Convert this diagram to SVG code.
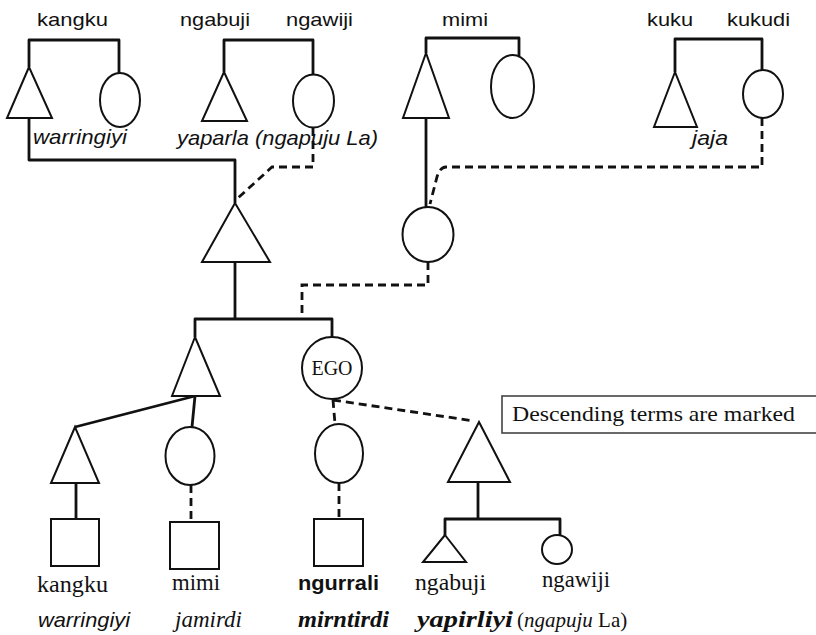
<svg xmlns="http://www.w3.org/2000/svg" width="816" height="635" viewBox="0 0 816 635">
<style>
.sh{fill:#fff;stroke:#111;stroke-width:2}
.ln{fill:none;stroke:#111;stroke-width:2.8;stroke-linejoin:round}
.ds{fill:none;stroke:#111;stroke-width:2.8;stroke-dasharray:8 5}
.ts{font-family:"Liberation Sans",Arial,sans-serif;font-size:19px;fill:#111}
.ti{font-family:"Liberation Sans",Arial,sans-serif;font-size:21px;font-style:italic;fill:#111}
.sf{font-family:"Liberation Serif","Times New Roman",serif;font-size:24px;fill:#111}
.sfi{font-family:"Liberation Serif","Times New Roman",serif;font-size:24px;font-style:italic;fill:#111}
.sfbi{font-family:"Liberation Serif","Times New Roman",serif;font-size:24px;font-style:italic;font-weight:bold;fill:#111}
.sb{font-family:"Liberation Sans",Arial,sans-serif;font-size:21px;font-weight:bold;fill:#111}
</style>
<rect width="816" height="635" fill="#fff"/>
<g id="connectors">
<path class="ln" d="M29,67 V40 H119 V73"/>
<path class="ln" d="M224,72 V40 H313 V75"/>
<path class="ln" d="M426,53 V38 H519 V56"/>
<path class="ln" d="M675,72 V39 H762 V70"/>
<path class="ln" d="M29,118 V160 H235 V203"/>
<path class="ds" d="M313,128 V167 H272 L238,198"/>
<path class="ln" d="M426,118 V207"/>
<path class="ds" d="M762,118 V167 H446 Q440,167 437,177 L430,204"/>
<path class="ln" d="M235,262 V319"/>
<path class="ln" d="M195,337 V319 H332 V337"/>
<path class="ds" d="M428,262 V285 H302 V319"/>
<path class="ln" d="M195,396 L75,427"/>
<path class="ln" d="M195,396 L192,427"/>
<path class="ds" d="M333,400 L335,424"/>
<path class="ds" d="M333,400 L474,421"/>
<path class="ln" d="M76,483 V519"/>
<path class="ds" d="M191,485 V522"/>
<path class="ds" d="M339,483 V519"/>
<path class="ln" d="M478,482 V519"/>
<path class="ln" d="M445,535 V519 H560 V535"/>
</g>
<g id="n_kangku_m"><polygon class="sh" points="29,67 7,118 52,118"/></g>
<g id="n_kangku_f"><ellipse class="sh" cx="120" cy="100" rx="20" ry="27"/></g>
<g id="n_ngabuji"><polygon class="sh" points="224,72 202,121 247,121"/></g>
<g id="n_ngawiji"><ellipse class="sh" cx="313.5" cy="101" rx="20.5" ry="26.5"/></g>
<g id="n_mimi_m"><polygon class="sh" points="426,53 403,118 449,118"/></g>
<g id="n_mimi_f"><ellipse class="sh" cx="512.5" cy="86.5" rx="21.5" ry="31.5"/></g>
<g id="n_kuku"><polygon class="sh" points="675,72 654,127 697,127"/></g>
<g id="n_kukudi"><ellipse class="sh" cx="763" cy="94" rx="20" ry="24"/></g>
<g id="n_father"><polygon class="sh" points="235,203 202,262 270,262"/></g>
<g id="n_mother"><ellipse class="sh" cx="428" cy="234.5" rx="25.5" ry="27.5"/></g>
<g id="n_brother"><polygon class="sh" points="195,337 172,396 220,396"/></g>
<g id="n_ego"><ellipse class="sh" cx="332" cy="368" rx="30" ry="31"/>
<text x="311.5" y="375" font-family="Liberation Serif,'Times New Roman',serif" font-size="22" fill="#111" textLength="41" lengthAdjust="spacingAndGlyphs">EGO</text></g>
<g id="n_bro_son"><polygon class="sh" points="75,427 51,483 99,483"/></g>
<g id="n_bro_dau"><ellipse class="sh" cx="190" cy="456" rx="24.5" ry="29"/></g>
<g id="n_ego_dau"><ellipse class="sh" cx="339" cy="453.5" rx="24" ry="29.5"/></g>
<g id="n_ego_son"><polygon class="sh" points="479,422 448,482 510,482"/></g>
<g id="n_sq1"><rect class="sh" x="51" y="519" width="48" height="47"/></g>
<g id="n_sq2"><rect class="sh" x="170" y="522" width="49" height="47"/></g>
<g id="n_sq3"><rect class="sh" x="314" y="519" width="49" height="47"/></g>
<g id="n_gs_m"><polygon class="sh" points="445,535 423,562 466,562"/></g>
<g id="n_gs_f"><ellipse class="sh" cx="557" cy="549.5" rx="15" ry="14.5"/></g>
<g id="note"><rect x="502" y="396" width="330" height="37" fill="#fff" stroke="#444" stroke-width="1.6"/>
<text x="512" y="421" font-family="Liberation Serif,'Times New Roman',serif" font-size="22" fill="#111" textLength="283" lengthAdjust="spacingAndGlyphs">Descending terms are marked</text></g>
<g id="labels">
<text class="ts" x="37" y="26" textLength="71" lengthAdjust="spacingAndGlyphs">kangku</text>
<text class="ts" x="180" y="26" textLength="70" lengthAdjust="spacingAndGlyphs">ngabuji</text>
<text class="ts" x="286" y="26" textLength="67" lengthAdjust="spacingAndGlyphs">ngawiji</text>
<text class="ts" x="442" y="26" textLength="46" lengthAdjust="spacingAndGlyphs">mimi</text>
<text class="ts" x="647" y="26" textLength="46" lengthAdjust="spacingAndGlyphs">kuku</text>
<text class="ts" x="727" y="26" textLength="63" lengthAdjust="spacingAndGlyphs">kukudi</text>
<text class="ti" x="33" y="144" textLength="94" lengthAdjust="spacingAndGlyphs">warringiyi</text>
<text class="ti" x="177" y="145" textLength="201" lengthAdjust="spacingAndGlyphs">yaparla (ngapuju La)</text>
<text class="ti" x="692" y="145" textLength="36" lengthAdjust="spacingAndGlyphs">jaja</text>
<text class="sf" x="37" y="592" textLength="71" lengthAdjust="spacingAndGlyphs">kangku</text>
<text class="sf" x="172" y="590" textLength="48" lengthAdjust="spacingAndGlyphs">mimi</text>
<text class="sb" x="298" y="590" textLength="81" lengthAdjust="spacingAndGlyphs">ngurrali</text>
<text class="sf" x="415" y="590" textLength="71" lengthAdjust="spacingAndGlyphs">ngabuji</text>
<text class="sf" x="542" y="587" textLength="68" lengthAdjust="spacingAndGlyphs">ngawiji</text>
<text class="ti" x="38" y="627" textLength="92" lengthAdjust="spacingAndGlyphs">warringiyi</text>
<text class="sfi" x="175" y="627" textLength="67" lengthAdjust="spacingAndGlyphs">jamirdi</text>
<text class="sfbi" x="298" y="627" textLength="91" lengthAdjust="spacingAndGlyphs">mirntirdi</text>
<text class="sfbi" x="417" y="627" textLength="96" lengthAdjust="spacingAndGlyphs">yapirliyi</text>
<text x="517" y="627" font-family="Liberation Serif,'Times New Roman',serif" font-size="21" fill="#111">(<tspan font-style="italic">ngapuju</tspan> La)</text>
</g>
</svg>
